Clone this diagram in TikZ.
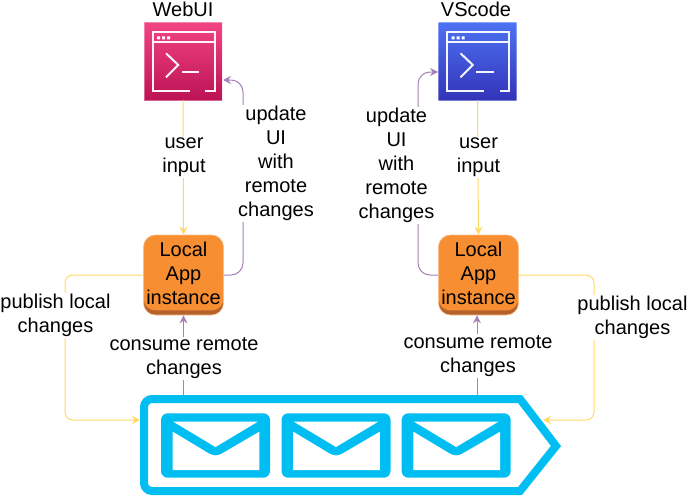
\documentclass[tikz,border=0pt]{standalone}
\usepackage{fontspec}
\setmainfont{Liberation Sans}
\usetikzlibrary{arrows.meta}
\definecolor{flowyellow}{HTML}{FFD966}
\definecolor{flowpurple}{HTML}{A680B8}
\definecolor{queueblue}{HTML}{00BEF2}
\definecolor{apporange}{HTML}{F78E32}
\definecolor{appshade}{HTML}{B5622B}
\definecolor{appedge}{HTML}{F9BE8C}
\tikzset{
  x=0.75pt, y=-0.75pt,
  txt/.style={font=\fontsize{15pt}{18pt}\selectfont, align=center, inner sep=0pt, text=black},
  lbl/.style={txt, fill=white, inner sep=1pt},
  termbox/.style={rectangle, minimum width=58.5pt, minimum height=58.5pt, inner sep=0pt, draw=white, draw opacity=0.35, line width=0.5pt},
  appbox/.style={rectangle, rounded corners=9pt, minimum width=60pt, minimum height=60pt, inner sep=0pt,
    fill=appshade, draw=appedge, line width=0.5pt, txt,
    path picture={\fill[apporange, rounded corners=9pt] ([yshift=3.4pt]path picture bounding box.south west) rectangle (path picture bounding box.north east);}},
  yflow/.style={draw=flowyellow, line width=0.75pt, rounded corners=6pt, -{Stealth[length=6pt,width=6pt]}},
  pflow/.style={draw=flowpurple, line width=0.75pt, rounded corners=6pt, -{Stealth[length=6pt,width=6pt]}},
  iconline/.style={draw=white, line width=1.5pt, opacity=0.95},
  queueline/.style={draw=queueblue, line width=6pt, line join=miter},
}
\newcommand{\termicon}[1]{%
  \begin{scope}[shift={(#1,0)}]
    \draw[iconline] (189.5,90.7) -- (152.5,90.7) -- (152.5,32) -- (214.5,32) -- (214.5,90.7) -- (205,90.7);
    \draw[iconline] (152.5,42) -- (214.5,42);
    \fill[white] (157,36.3) rectangle (160,39.3) (162,36.3) rectangle (165,39.3) (167,36.3) rectangle (170,39.3);
    \draw[iconline] (166,53.3) -- (178.3,65) -- (166,77.3);
    \draw[iconline] (181.7,72.3) -- (199.3,72.3);
  \end{scope}}
\newcommand{\envelope}[1]{%
  \begin{scope}[shift={(#1,0)}]
    \fill[queueblue, rounded corners=5pt] (161,413.3) rectangle (270,477.7);
    \fill[white] (173.3,421.7) -- (257.7,421.7) -- (215.5,447) -- cycle;
    \fill[white] (172.7,431.7) -- (209,453.5) to[out=-30,in=210] (222,453.5) -- (259.3,431.7) -- (259.3,470) -- (172.7,470) -- cycle;
  \end{scope}}
\begin{document}
\begin{tikzpicture}
\useasboundingbox (0,0) rectangle (689,496);

% boxes
\node[termbox, top color={rgb,255:red,243;green,68;blue,130}, bottom color={rgb,255:red,188;green,19;blue,86}] (webui) at (183,61) {};
\node[termbox, top color={rgb,255:red,77;green,114;blue,243}, bottom color={rgb,255:red,51;green,52;blue,185}] (vscode) at (477.5,61) {};
\termicon{0}
\termicon{294.5}
\node[txt] (webtitle) at (183,9) {WebUI};
\node[txt] (vstitle) at (476,9) {VScode};

\node[appbox] (webapp) at (183.5,275) {\parbox{60pt}{\centering Local\\App\\instance\par\vspace{3pt}}};
\node[appbox] (vsapp) at (478.5,275) {\parbox{60pt}{\centering Local\\App\\instance\par\vspace{3pt}}};

% queue
\draw[queueline] (300,399) -- (520,399) -- (556,446) -- (520,491) -- (300,491)
  [rounded corners=6pt] -- (144,491) -- (144,399) -- cycle;
\envelope{0}
\envelope{120.5}
\envelope{240.7}

\coordinate (qleft) at (140,420);
\coordinate (qright) at (543,420);
\coordinate (qtopweb) at (183.5,395);
\coordinate (qtopvs) at (477,395);
\coordinate (webin) at (223,80);
\coordinate (vsin) at (438,72);

% connectors
\draw[yflow] (webui.south) -- (webapp.north);
\draw[yflow] (vscode.south) -- (vsapp.north);
\draw[pflow] (qtopweb) -- (webapp.south);
\draw[pflow] (qtopvs) -- (vsapp.south -| qtopvs);
\draw[pflow, rounded corners=9pt] (webapp.east) -- (243,275) -- (243,80) -- (webin);
\draw[pflow, rounded corners=9pt] (vsapp.west) -- (418,275) -- (418,72) -- (vsin);
\draw[yflow] (webapp.west) -- (65,275) -- (65,420) -- (qleft);
\draw[yflow] (vsapp.east) -- (594,275) -- (594,420) -- (qright);

% labels
\node[lbl] (l1) at (184,157.5) {user\\input};
\node[lbl] (l2) at (478.5,157.5) {user\\input};
\node[lbl] (l3) at (276,163.5) {update\\UI\\with\\remote\\changes};
\node[lbl] (l4) at (396.5,165.5) {update\\UI\\with\\remote\\changes};
\node[lbl] (l5) at (55.5,315.5) {publish local\\changes};
\node[lbl] (l6) at (632.5,317.5) {publish local\\changes};
\node[lbl] (l7) at (184,358.5) {consume remote\\changes};
\node[lbl] (l8) at (478,356) {consume remote\\changes};
\end{tikzpicture}
\end{document}
